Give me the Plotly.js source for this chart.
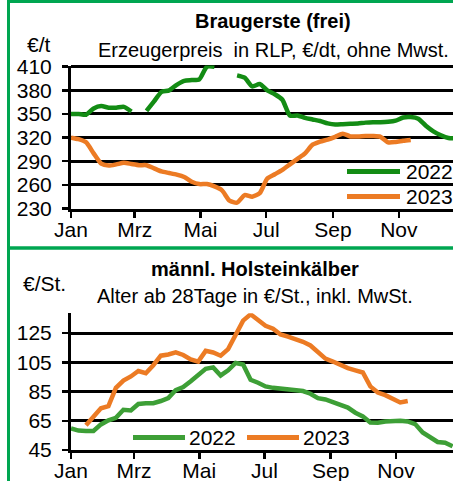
<!DOCTYPE html>
<html>
<head>
<meta charset="utf-8">
<script src="https://cdn.plot.ly/plotly-3.0.1.min.js"></script>
<style>
html,body{margin:0;padding:0;overflow:hidden;background:#fff;}
#chart{width:453px;height:481px;}
</style>
</head>
<body>
<div id="chart"></div>
<script>
// Calendar weeks (KW)
const weeks = [1,2,3,4,5,6,7,8,9,10,11,12,13,14,15,16,17,18,19,20,21,22,23,24,25,26,
  27,28,29,30,31,32,33,34,35,36,37,38,39,40,41,42,43,44,45,46,47,48,49,50,51,52];

// Month tick positions (in weeks) and labels
const monthTickWeeks = [1, 9.43, 18.14, 26.86, 35.71, 44.43];
const monthLabels = ["Jan", "Mrz", "Mai", "Jul", "Sep", "Nov"];

// Braugerste (frei), Erzeugerpreis RLP, €/t
const gerste2022 = [350,350,349,357,360,358,358,359,353,null,354,366,378,380,387,392,393,394,410,410,
  null,null,399,396,385,388,380,375,368,348,348,345,343,341,338,336.5,337,337.5,338,339,
  339.5,339.5,340,341.5,345.5,346,344,335,328,323,319.5,319];
const gerste2023 = [320,318,314,300,287,284.5,286,288,286.5,285,285,281,277,275,273,270,264,261,261,258,
  253,240,237.5,247,245,249.5,268,273.5,279,286,293,300,311,315,317.5,321,325,321.5,321.5,322,
  322,321,314,314.5,316,317];
const gersteTicks = [230,260,290,320,350,380,410];

// männl. Holsteinkälber, €/St.
const kaelber2022 = [59.8,58.3,58,58,62.5,65.3,67,72.5,72,76.5,77,77,78.5,80.5,86,88,92,96.5,100.5,101.5,
  96,99.5,104.5,103.5,93,91,88.5,87.5,87,86.2,85.5,85.3,83.5,80.5,79.6,77.5,76,74,70.5,68,
  63.8,63.6,64.5,65,65,64.5,62.7,57,54,50.5,50,47.5];
const kaelber2023 = [null,null,62,67.5,73.5,75,87.5,92.5,95.3,99,97.5,103,109.5,110.3,111.8,110,107,105.5,112.8,111.7,
  109.5,114,123,133.5,137.8,134,130,128,124,122.5,121,119,116.5,112,107.5,105.5,103,101,99.5,98,
  88.5,84.3,82.5,80,77.5,78.5];
const kaelberTicks = [45,65,85,105,125];

const seriesNames = ["2022", "2023"];

const FONT = "Liberation Sans, Arial, sans-serif";
const GREEN_TOP = "#138c14";
const GREEN_BOT = "#3d9f36";
const ORANGE = "#ec7b24";
const FRAME = "#00a651";

const traces = [
  {x: weeks, y: gerste2022, xaxis: "x", yaxis: "y", mode: "lines", name: seriesNames[0],
   line: {color: GREEN_TOP, width: 4.5, shape: "spline", smoothing: 0.6}, connectgaps: false},
  {x: weeks.slice(0, gerste2023.length), y: gerste2023, xaxis: "x", yaxis: "y", mode: "lines", name: seriesNames[1],
   line: {color: ORANGE, width: 4.5, shape: "spline", smoothing: 0.6}},
  {x: weeks, y: kaelber2022, xaxis: "x2", yaxis: "y2", mode: "lines", name: seriesNames[0],
   line: {color: GREEN_BOT, width: 4.5}},
  {x: weeks.slice(0, kaelber2023.length), y: kaelber2023, xaxis: "x2", yaxis: "y2", mode: "lines", name: seriesNames[1],
   line: {color: ORANGE, width: 4.5}}
];

const W = 453, H = 481;
const px = v => v / W;
const py = v => (H - v) / H;

const axisCommon = {
  showline: true, linecolor: "#000", linewidth: 3,
  ticks: "outside", ticklen: 6, tickwidth: 2.5, tickcolor: "#000",
  tickfont: {family: FONT, size: 21, color: "#000"},
  zeroline: false, fixedrange: true
};

const layout = {
  width: W, height: H,
  margin: {l: 0, r: 0, t: 0, b: 0},
  paper_bgcolor: "#fff", plot_bgcolor: "#fff",
  showlegend: false,
  font: {family: FONT, color: "#000"},
  xaxis: Object.assign({}, axisCommon, {
    domain: [px(71), 1], range: [1, 51.6],
    tickmode: "array", tickvals: monthTickWeeks, ticktext: monthLabels,
    showgrid: false, anchor: "y", ticklabelstandoff: -6
  }),
  yaxis: Object.assign({}, axisCommon, {
    domain: [py(208.5), py(65.5)], range: [230, 411.5],
    tickmode: "array", tickvals: gersteTicks,
    showgrid: true, gridcolor: "#000", gridwidth: 3, anchor: "x",
    ticklabelstandoff: 6
  }),
  xaxis2: Object.assign({}, axisCommon, {
    domain: [px(71), 1], range: [1, 52.05],
    tickmode: "array", tickvals: monthTickWeeks, ticktext: monthLabels,
    showgrid: false, anchor: "y2", ticklabelstandoff: -6
  }),
  yaxis2: Object.assign({}, axisCommon, {
    domain: [py(450), py(313.3)], range: [45, 138.5],
    tickmode: "array", tickvals: kaelberTicks,
    showgrid: true, gridcolor: "#000", gridwidth: 3, anchor: "x2",
    ticklabelstandoff: 6
  }),
  shapes: [
    // frames
    {type: "line", xref: "paper", yref: "paper", x0: px(8.5), x1: px(8.5), y0: 0, y1: 1, line: {color: FRAME, width: 3}},
    {type: "line", xref: "paper", yref: "paper", x0: px(7), x1: 1, y0: py(1.5), y1: py(1.5), line: {color: FRAME, width: 3}},
    {type: "line", xref: "paper", yref: "paper", x0: px(7), x1: 1, y0: py(248), y1: py(248), line: {color: FRAME, width: 3.5}},
    // legend samples top
    {type: "line", xref: "paper", yref: "paper", x0: px(347), x1: px(400), y0: py(171.5), y1: py(171.5), line: {color: GREEN_TOP, width: 5}},
    {type: "line", xref: "paper", yref: "paper", x0: px(347), x1: px(400), y0: py(196.5), y1: py(196.5), line: {color: ORANGE, width: 5}},
    // legend samples bottom
    {type: "line", xref: "paper", yref: "paper", x0: px(133), x1: px(185), y0: py(437.5), y1: py(437.5), line: {color: GREEN_BOT, width: 5}},
    {type: "line", xref: "paper", yref: "paper", x0: px(247), x1: px(299), y0: py(437.5), y1: py(437.5), line: {color: ORANGE, width: 5}}
  ],
  annotations: [
    {text: "<b>Braugerste (frei)</b>", xref: "paper", yref: "paper", x: px(273), y: py(21), xanchor: "center", yanchor: "middle", showarrow: false, font: {family: FONT, size: 20, color: "#000"}},
    {text: "Erzeugerpreis  in RLP, €/dt, ohne Mwst.", xref: "paper", yref: "paper", x: px(273.5), y: py(50), xanchor: "center", yanchor: "middle", showarrow: false, font: {family: FONT, size: 20, color: "#000"}},
    {text: "€/t", xref: "paper", yref: "paper", x: px(39), y: py(45), xanchor: "center", yanchor: "middle", showarrow: false, font: {family: FONT, size: 21, color: "#000"}},
    {text: seriesNames[0], xref: "paper", yref: "paper", x: px(404), y: py(171.5), xanchor: "left", yanchor: "middle", showarrow: false, font: {family: FONT, size: 21, color: "#000"}},
    {text: seriesNames[1], xref: "paper", yref: "paper", x: px(404), y: py(196.5), xanchor: "left", yanchor: "middle", showarrow: false, font: {family: FONT, size: 21, color: "#000"}},
    {text: "<b>männl. Holsteinkälber</b>", xref: "paper", yref: "paper", x: px(254.5), y: py(269), xanchor: "center", yanchor: "middle", showarrow: false, font: {family: FONT, size: 20, color: "#000"}},
    {text: "Alter ab 28Tage in €/St., inkl. MwSt.", xref: "paper", yref: "paper", x: px(255), y: py(296), xanchor: "center", yanchor: "middle", showarrow: false, font: {family: FONT, size: 20, color: "#000"}},
    {text: "€/St.", xref: "paper", yref: "paper", x: px(44.5), y: py(283), xanchor: "center", yanchor: "middle", showarrow: false, font: {family: FONT, size: 21, color: "#000"}},
    {text: seriesNames[0], xref: "paper", yref: "paper", x: px(187), y: py(437.5), xanchor: "left", yanchor: "middle", showarrow: false, font: {family: FONT, size: 21, color: "#000"}},
    {text: seriesNames[1], xref: "paper", yref: "paper", x: px(301), y: py(437.5), xanchor: "left", yanchor: "middle", showarrow: false, font: {family: FONT, size: 21, color: "#000"}}
  ]
};

Plotly.newPlot("chart", traces, layout, {displayModeBar: false, staticPlot: true});
</script>
</body>
</html>
